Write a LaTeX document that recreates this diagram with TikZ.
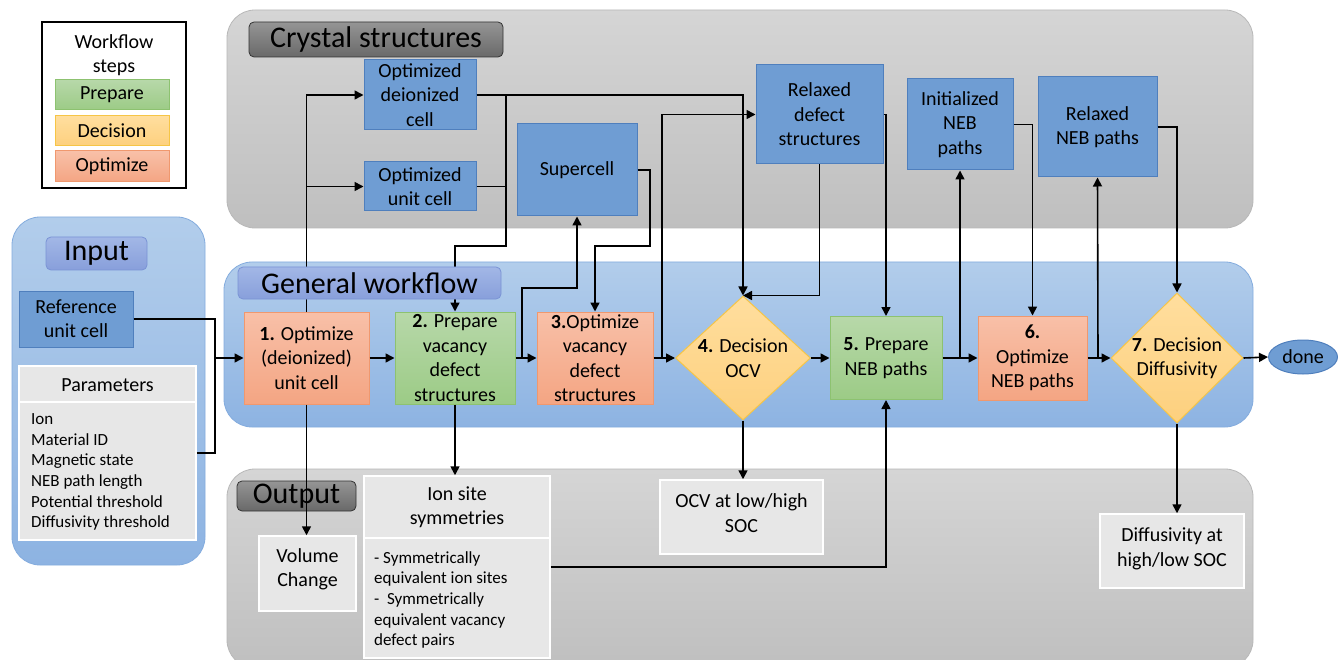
\documentclass[tikz,border=0pt]{standalone}
\usepackage{fontspec}
\setmainfont{Carlito}
\usetikzlibrary{arrows.meta,shapes.geometric}
\definecolor{boxblue}{HTML}{6F9DD3}
\definecolor{boxborder}{HTML}{4F7FBD}
\definecolor{greentop}{HTML}{B7D8A9}
\definecolor{greenbot}{HTML}{9CCB86}
\definecolor{greenborder}{HTML}{8DC270}
\definecolor{orangetop}{HTML}{F8C0A8}
\definecolor{orangebot}{HTML}{F4A583}
\definecolor{orangeborder}{HTML}{F0986E}
\definecolor{yellowtop}{HTML}{FFDE9E}
\definecolor{yellowbot}{HTML}{FDD07E}
\definecolor{yellowborder}{HTML}{F6C546}
\definecolor{graytop}{HTML}{D5D5D5}
\definecolor{graybot}{HTML}{BFBFBF}
\definecolor{grayborder}{HTML}{B8B8B8}
\definecolor{bluetop}{HTML}{B2CDEB}
\definecolor{bluebot}{HTML}{8DB3E2}
\definecolor{blueborder}{HTML}{84ACDE}
\definecolor{tabtop}{HTML}{A2B7E6}
\definecolor{tabbot}{HTML}{889FDB}
\definecolor{tabborder}{HTML}{7A93D5}
\definecolor{darktop}{HTML}{959595}
\definecolor{darkbot}{HTML}{696969}
\definecolor{outgray}{HTML}{E7E7E7}
\tikzset{
  base/.style={font=\fontsize{20}{24.4}\selectfont, align=center, inner sep=0pt, text=black},
  small/.style={font=\fontsize{17}{20.7}\selectfont, align=left, inner sep=0pt, text=black},
  bluebox/.style={base, draw=boxborder, fill=boxblue, line width=1pt},
  prep/.style={base, draw=greenborder, top color=greentop, bottom color=greenbot, line width=1pt},
  opt/.style={base, draw=orangeborder, top color=orangetop, bottom color=orangebot, line width=1pt},
  dec/.style={diamond, inner sep=0pt, draw=yellowborder, top color=yellowtop, bottom color=yellowbot, line width=1pt},
  outbox/.style={base, fill=outgray, draw=white, line width=1.5pt},
  panelgray/.style={rounded corners=28pt, draw=grayborder, top color=graytop, bottom color=graybot, line width=0.8pt},
  panelblue/.style={rounded corners=28pt, draw=blueborder, top color=bluetop, bottom color=bluebot, line width=0.8pt},
  tabblue/.style={rounded corners=5pt, draw=tabborder, top color=tabtop, bottom color=tabbot, line width=0.8pt, font=\fontsize{30}{36}\selectfont, inner sep=0pt},
  tabdark/.style={rounded corners=5pt, draw=black!80, top color=darktop, bottom color=darkbot, line width=0.8pt, font=\fontsize{30}{36}\selectfont, inner sep=0pt},
  conn/.style={line width=1.6pt},
  arr/.style={line width=1.6pt, -{Triangle[length=9pt,width=9pt]}}
}
\begin{document}
\begin{tikzpicture}[x=1pt,y=-1pt]
\useasboundingbox[fill=white] (0,0) rectangle (1338,660);
% panels
\draw[panelgray] (227,10) rectangle (1253,228);
\draw[panelgray] (227,469) rectangle (1253,668);
\draw[panelblue] (224,262) rectangle (1253,427);
\draw[panelblue] (12,217) rectangle (205,565);
% tabs below connectors
\node[tabdark, minimum width=119, minimum height=30] (tout) at (296.5,496) {Output};
\node[tabdark, minimum width=254, minimum height=35] (tcs) at (376,39.5) {Crystal structures};
\node[tabblue, minimum width=101, minimum height=33] (tin) at (96.5,253.5) {Input};
% legend
\node[draw=black, line width=1.2pt, fill=white, minimum width=144, minimum height=166] (legend) at (114,105) {};
\node[base] (legtitle) at (114,55) {Workflow\\steps};
\node[prep, minimum width=114, minimum height=30] (legP) at (112,95) {Prepare};
\node[base, draw=yellowborder, top color=yellowtop, bottom color=yellowbot, line width=1pt, minimum width=114, minimum height=30] (legD) at (112,131) {Decision};
\node[opt, minimum width=114, minimum height=31] (legO) at (112,166.5) {Optimize};
% input
\node[bluebox, minimum width=114, minimum height=56] (ref) at (76,319) {Reference\\unit cell};
\node[outbox, minimum width=177, minimum height=174] (par) at (107.5,453) {};
\node[base] (partitle) at (107.5,385) {Parameters};
\draw[white, line width=1.5pt] (par.west |- 0,402) -- (par.east |- 0,402);
\node[small, anchor=west] (parlist) at (31,472) {Ion\\Material ID\\Magnetic state\\NEB path length\\Potential threshold\\Diffusivity threshold};
% crystal structures
\node[bluebox, minimum width=112, minimum height=70] (cdi) at (420,95) {Optimized\\deionized\\cell};
\node[bluebox, minimum width=112, minimum height=49] (cuc) at (420,186.5) {Optimized\\unit cell};
\node[bluebox, minimum width=120, minimum height=92] (sc) at (577,170) {Supercell};
\node[bluebox, minimum width=127, minimum height=99] (rds) at (819.5,114.5) {Relaxed\\defect\\structures};
\node[bluebox, minimum width=106, minimum height=91] (ineb) at (960,124.5) {Initialized\\NEB\\paths};
\node[bluebox, minimum width=119, minimum height=100] (rneb) at (1097.5,127) {Relaxed\\NEB paths};
% workflow
\node[opt, minimum width=125, minimum height=92] (n1) at (306.5,358) {\textbf{1.} Optimize\\(deionized)\\unit cell};
\node[prep, minimum width=120, minimum height=92] (n2) at (455,358) {\textbf{2.} Prepare\\vacancy\\defect\\structures};
\node[opt, minimum width=116, minimum height=92] (n3) at (595,358) {\textbf{3.}Optimize\\vacancy\\defect\\structures};
\node[dec, minimum width=135, minimum height=124, label={[base]center:{\textbf{4.} Decision\\OCV}}] (d4) at (743,358) {};
\node[prep, minimum width=112, minimum height=83] (n5) at (886,358) {\textbf{5.} Prepare\\NEB paths};
\node[opt, minimum width=109, minimum height=84] (n6) at (1032.5,358) {\textbf{6.}\\Optimize\\NEB paths};
\node[dec, minimum width=132, minimum height=130, label={[base]center:{\textbf{7.} Decision\\Diffusivity}}] (d7) at (1177,358) {};
\node[ellipse, draw=boxborder, fill=boxblue, line width=1pt, minimum width=69, minimum height=34, inner sep=0pt, font=\fontsize{20}{24.4}\selectfont] (done) at (1303,357) {done};
% output
\node[outbox, minimum width=97, minimum height=75] (vol) at (307.5,573.5) {};
\node[base] (voltext) at (307.5,569) {Volume\\Change};
\node[outbox, minimum width=186, minimum height=182] (ion) at (457,567) {};
\node[base] (iontitle) at (457,507) {Ion site\\symmetries};
\draw[white, line width=1.5pt] (ion.west |- 0,538) -- (ion.east |- 0,538);
\node[small, anchor=west] (ionlist) at (374,600) {- Symmetrically\\equivalent ion sites\\- \ Symmetrically\\equivalent vacancy\\defect pairs};
\node[outbox, minimum width=163, minimum height=74] (ocv) at (741.5,517) {};
\node[base] (ocvtext) at (741.5,513) {OCV at low/high\\SOC};
\node[outbox, minimum width=144, minimum height=74] (diff) at (1172,551) {};
\node[base] (difftext) at (1172,549) {Diffusivity at\\high/low SOC};
% connectors
\coordinate (j0) at (215,358);
\draw[conn] (ref.east) -| (j0);
\draw[conn] (par.east) -| (j0);
\draw[arr] (j0) -- (n1.west);
\draw[arr] (n1.north) |- (cdi.west);
\draw[arr] (n1.north |- cuc.west) -- (cuc.west);
\draw[arr] (n1.south) -- (n1.south |- vol.north);
\draw[arr] (n1.east) -- (n2.west);
\draw[arr] (cdi.east) -| (d4.north);
\draw[arr] (cdi.east) -- (506,95) -- (506,246) -| (n2.north);
\draw[conn] (cuc.east) -- (506,186.5);
\draw[arr] (n2.south) -- (n2.south |- ion.north);
\draw[arr] (n2.east) -- (n3.west);
\draw[arr] (522,358) -- (522,288) -| (sc.south);
\draw[arr] (sc.east) -- (650,170) -- (650,246) -| (n3.north);
\draw[arr] (n3.east) -- (d4.west);
\draw[arr] (662,358) |- (rds.west);
\draw[arr] (rds.south) -- (rds.south |- d4.north) -- (d4.north);
\draw[arr] (rds.east) -| (n5.north);
\draw[arr] (d4.east) -- (n5.west);
\draw[arr] (d4.south) -- (d4.south |- ocv.north);
\draw[arr] (ion.east) -| (n5.south);
\draw[arr] (n5.east) -- (n6.west);
\draw[arr] (960,358) -- (ineb.south);
\draw[arr] (ineb.east) -| (n6.north);
\draw[arr] (n6.east) -- (d7.west);
\draw[arr] (1098,358) -- (rneb.south);
\draw[arr] (rneb.east) -| (d7.north);
\draw[arr] (d7.east) -- (done.west);
\draw[arr] (d7.south) -- (d7.south |- diff.north);
% tab above connectors
\node[tabblue, minimum width=263, minimum height=32] (tgw) at (369.5,283) {General workflow};
\end{tikzpicture}
\end{document}
